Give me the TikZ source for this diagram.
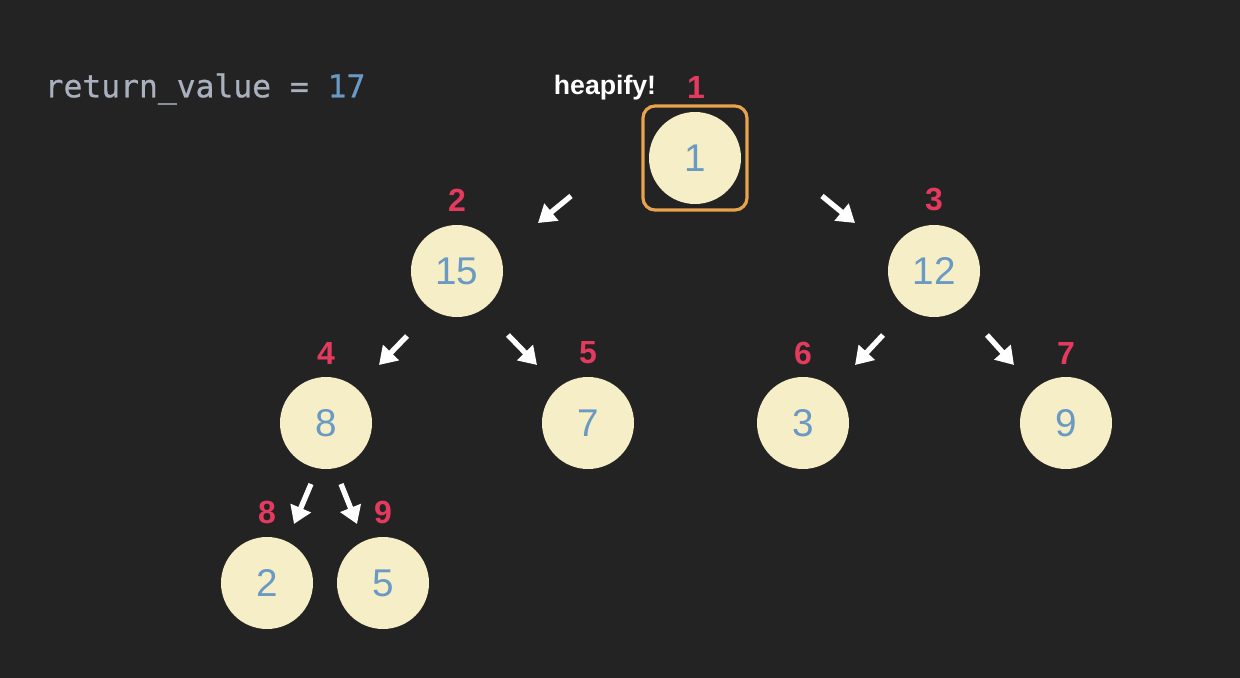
\documentclass[tikz,border=0pt]{standalone}
\usepackage{fontspec}
\setmainfont{Liberation Sans}
\newfontfamily\codefont[FakeBold=0.7]{DejaVu Sans Mono}
\usetikzlibrary{arrows.meta}

\definecolor{bg}{HTML}{232323}
\definecolor{keyfill}{HTML}{F5EEC6}
\definecolor{keyblue}{HTML}{6A9AC4}
\definecolor{idxred}{HTML}{E33A5E}
\definecolor{boxorange}{HTML}{E9A24E}
\definecolor{codegray}{HTML}{A9B0BE}

\tikzset{
    key/.style={circle, fill=keyfill, minimum size=69pt, inner sep=0pt,
        text=keyblue, font=\fontsize{29}{29}\selectfont},
    idx/.style={text=idxred, font=\bfseries\fontsize{24}{24}\selectfont},
    arr/.style={white, line width=4pt, -{Triangle[width=16pt,length=13pt]}},
}

\begin{document}
\begin{tikzpicture}[x=0.75pt,y=-0.75pt]
        \fill[bg] (0,0) rectangle (1240,678);
        \useasboundingbox (0,0) rectangle (1240,678);

        \node[anchor=west, text=codegray, font=\codefont\fontsize{23.5}{23.5}\selectfont]
            at (40,89) (ret){return\_value = \textcolor{keyblue}{17}};

        \node[key] at (695,158) (n1){1};
        \node[key] at (457,271) (n2){15};
        \node[key] at (934,271) (n3){12};
        \node[key] at (326,423) (n4){8};
        \node[key] at (588,423) (n5){7};
        \node[key] at (803,423) (n6){3};
        \node[key] at (1066,423) (n7){9};
        \node[key] at (267,583) (n8){2};
        \node[key] at (383,583) (n9){5};

        \node[draw=boxorange, line width=2.4pt, rounded corners=9pt,
            minimum size=78pt] at (695,158) (hbox){};
        \node[text=white, font=\bfseries\fontsize{20}{20}\selectfont]
            at (605,88) (heap){heapify!};

        \node[idx] at (696,87) (i1){1};
        \node[idx] at (457,200) (i2){2};
        \node[idx] at (934,200) (i3){3};
        \node[idx] at (326,353) (i4){4};
        \node[idx] at (588,353) (i5){5};
        \node[idx] at (803,353) (i6){6};
        \node[idx] at (1066,353) (i7){7};
        \node[idx] at (267,512) (i8){8};
        \node[idx] at (383,512) (i9){9};

        % arrows between the levels
        \coordinate (a2s) at (571,196);  \coordinate (a2e) at (538,223);
        \coordinate (a3s) at (822,196);  \coordinate (a3e) at (855,223);
        \coordinate (a4s) at (407,336);  \coordinate (a4e) at (379,365);
        \coordinate (a5s) at (508,335);  \coordinate (a5e) at (537,365);
        \coordinate (a6s) at (883,335);  \coordinate (a6e) at (855,365);
        \coordinate (a7s) at (987,335);  \coordinate (a7e) at (1014,365);
        \coordinate (a8s) at (311,484);  \coordinate (a8e) at (294,524);
        \coordinate (a9s) at (341,484);  \coordinate (a9e) at (357,524);

        \draw[arr] (a2s) -- (a2e);
        \draw[arr] (a3s) -- (a3e);
        \draw[arr] (a4s) -- (a4e);
        \draw[arr] (a5s) -- (a5e);
        \draw[arr] (a6s) -- (a6e);
        \draw[arr] (a7s) -- (a7e);
        \draw[arr] (a8s) -- (a8e);
        \draw[arr] (a9s) -- (a9e);
    \end{tikzpicture}
\end{document}
